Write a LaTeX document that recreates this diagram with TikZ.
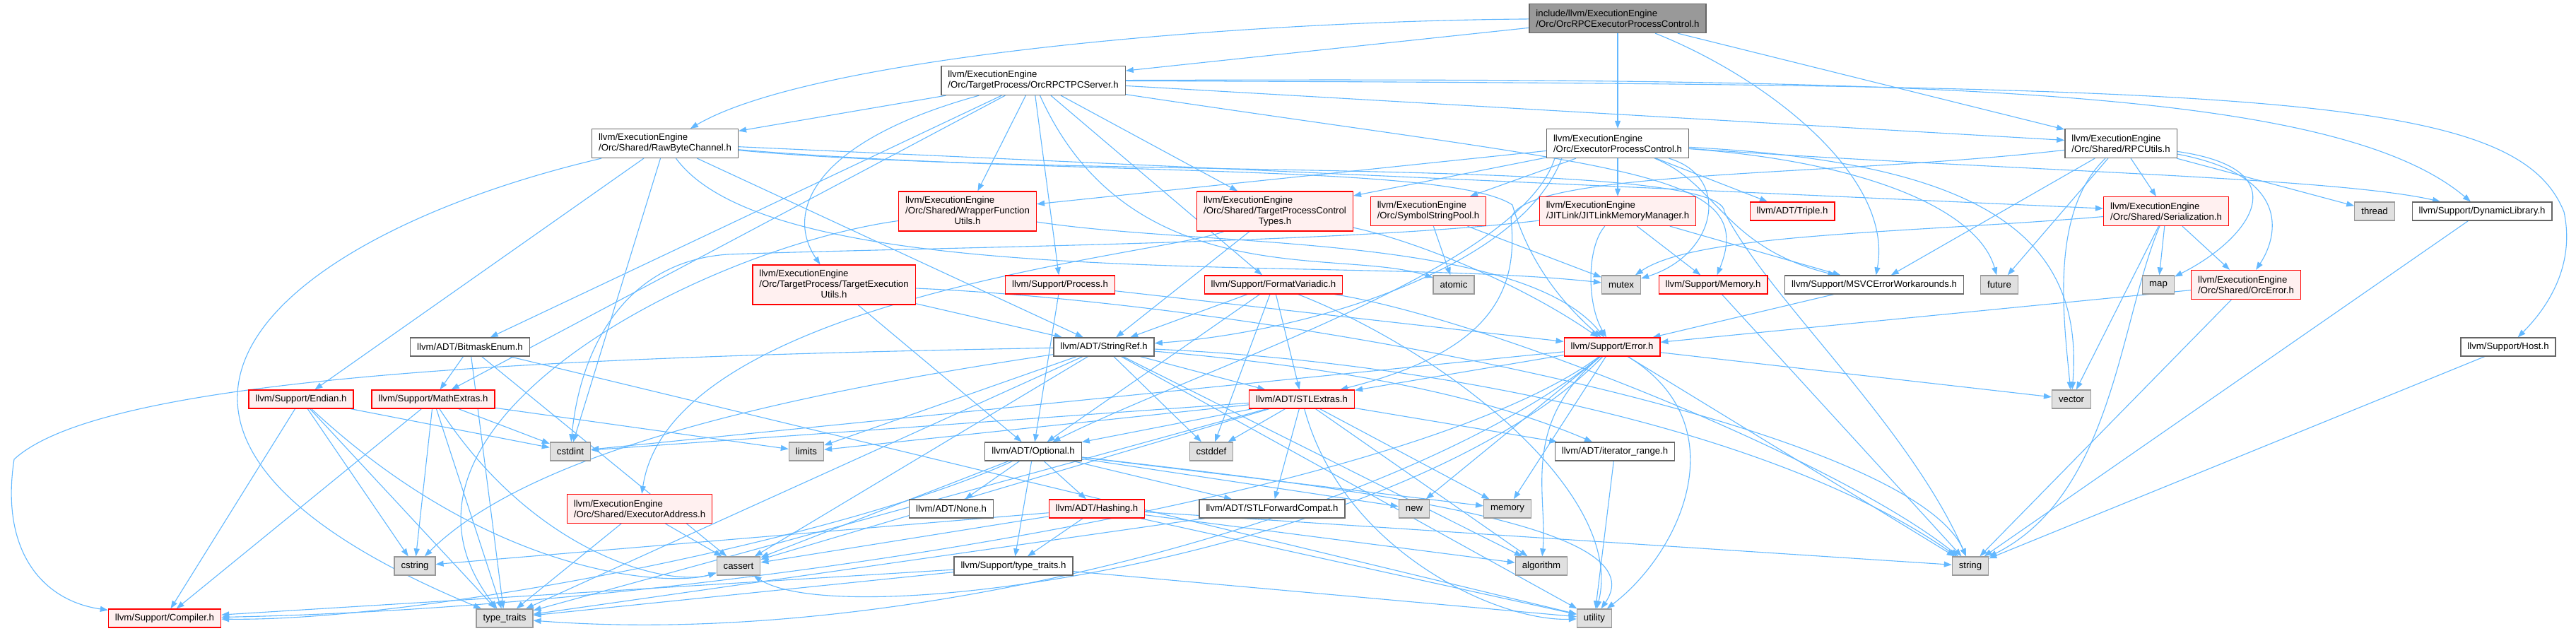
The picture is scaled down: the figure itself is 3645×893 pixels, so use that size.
\documentclass[tikz,border=0pt]{standalone}
\usepackage{fontspec}
\setmainfont{Liberation Sans}
\usetikzlibrary{arrows.meta}

\definecolor{edgeblue}{HTML}{63B8FF}
\definecolor{boxgray}{HTML}{666666}
\definecolor{redline}{HTML}{FF0000}
\definecolor{pinkfill}{HTML}{FFF0F0}
\definecolor{sysgray}{HTML}{999999}
\definecolor{sysfill}{HTML}{E0E0E0}
\definecolor{rootfill}{HTML}{999999}

\newcommand{\graphfont}{\fontsize{13.2}{15}\selectfont}

\tikzstyle{filebox} = [
    rectangle,
    draw=boxgray,
    fill=white,
    line width=1.3pt,
    inner xsep=9.5pt,
    inner ysep=2pt,
    minimum height=26pt,
    align=left,
    font=\graphfont
]
\tikzstyle{redbox} = [filebox, draw=redline, fill=pinkfill]
\tikzstyle{sysbox} = [filebox, draw=sysgray, fill=sysfill]
\tikzstyle{rootbox} = [filebox, fill=rootfill]
\tikzstyle{tall} = [minimum height=41pt]
\tikzstyle{taller} = [minimum height=56pt]
\tikzstyle{arrow} = [
    line width=1.1pt,
    draw=edgeblue,
    ->,
    >={Stealth[length=11pt,width=8pt,inset=0pt]}
]

\pgfdeclarelayer{edges}
\pgfsetlayers{edges,main}

\begin{document}
\begin{tikzpicture}[x=1pt, y=-1pt]

\useasboundingbox (0,0) rectangle (3645,893);

% top rows
\node (root) [rootbox, tall] at (2289,26)
{include/llvm/ExecutionEngine\\/Orc/OrcRPCExecutorProcessControl.h};

\node (tpcserver) [filebox, tall] at (1462,114)
{llvm/ExecutionEngine\\/Orc/TargetProcess/OrcRPCTPCServer.h};

\node (rawbyte) [filebox, tall] at (941,203)
{llvm/ExecutionEngine\\/Orc/Shared/RawByteChannel.h};
\node (epc) [filebox, tall] at (2289,203)
{llvm/ExecutionEngine\\/Orc/ExecutorProcessControl.h};
\node (rpcutils) [filebox, tall] at (3001,203)
{llvm/ExecutionEngine\\/Orc/Shared/RPCUtils.h};

\node (wrapper) [redbox, taller] at (1369,299)
{\begin{tabular}{@{}l@{}}llvm/ExecutionEngine\\/Orc/Shared/WrapperFunction\\\multicolumn{1}{@{}c@{}}{Utils.h}\end{tabular}};
\node (tpctypes) [redbox, taller] at (1804,299)
{\begin{tabular}{@{}l@{}}llvm/ExecutionEngine\\/Orc/Shared/TargetProcessControl\\\multicolumn{1}{@{}c@{}}{Types.h}\end{tabular}};
\node (symstr) [redbox, tall] at (2021,299)
{llvm/ExecutionEngine\\/Orc/SymbolStringPool.h};
\node (jitlinkmm) [redbox, tall] at (2289,299)
{llvm/ExecutionEngine\\/JITLink/JITLinkMemoryManager.h};
\node (triple) [redbox] at (2536,299) {llvm/ADT/Triple.h};
\node (serial) [redbox, tall] at (3065,299)
{llvm/ExecutionEngine\\/Orc/Shared/Serialization.h};
\node (thread) [sysbox] at (3360,299) {thread};
\node (dynlib) [filebox] at (3512,299) {llvm/Support/DynamicLibrary.h};

\node (teutils) [redbox, taller] at (1180,403)
{\begin{tabular}{@{}l@{}}llvm/ExecutionEngine\\/Orc/TargetProcess/TargetExecution\\\multicolumn{1}{@{}c@{}}{Utils.h}\end{tabular}};
\node (process) [redbox] at (1500,403) {llvm/Support/Process.h};
\node (formatv) [redbox] at (1802,403) {llvm/Support/FormatVariadic.h};
\node (atomic) [sysbox] at (2057,403) {atomic};
\node (mutex) [sysbox] at (2294,403) {mutex};
\node (memoryh) [redbox] at (2424,403) {llvm/Support/Memory.h};
\node (msvc) [filebox] at (2652,403) {llvm/Support/MSVCErrorWorkarounds.h};
\node (future) [sysbox] at (2829,403) {future};
\node (map) [sysbox] at (3054,403) {map};
\node (orcerror) [redbox, tall] at (3178,403)
{llvm/ExecutionEngine\\/Orc/Shared/OrcError.h};

% middle rows
\node (bitmask) [filebox] at (665,491) {llvm/ADT/BitmaskEnum.h};
\node (stringref) [filebox] at (1562,491) {llvm/ADT/StringRef.h};
\node (error) [redbox] at (2281,491) {llvm/Support/Error.h};
\node (host) [filebox] at (3549,491) {llvm/Support/Host.h};

\node (endian) [redbox] at (426,565) {llvm/Support/Endian.h};
\node (mathext) [redbox] at (613,565) {llvm/Support/MathExtras.h};
\node (stlextras) [redbox] at (1842,565) {llvm/ADT/STLExtras.h};
\node (vector) [sysbox] at (2931,565) {vector};

\node (cstdint) [sysbox] at (807,639) {cstdint};
\node (limits) [sysbox] at (1141,639) {limits};
\node (optional) [filebox] at (1462,639) {llvm/ADT/Optional.h};
\node (cstddef) [sysbox] at (1714,639) {cstddef};
\node (iterrange) [filebox] at (2285,639) {llvm/ADT/iterator\_range.h};

% bottom rows
\node (execaddr) [redbox, tall] at (905,720)
{llvm/ExecutionEngine\\/Orc/Shared/ExecutorAddress.h};
\node (none) [filebox] at (1346,720) {llvm/ADT/None.h};
\node (hashing) [redbox] at (1552,720) {llvm/ADT/Hashing.h};
\node (stlfwd) [filebox] at (1800,720) {llvm/ADT/STLForwardCompat.h};
\node (newh) [sysbox] at (2001,720) {new};
\node (memory) [sysbox] at (2133,720) {memory};

\node (cstring) [sysbox] at (587,801) {cstring};
\node (cassert) [sysbox] at (1045,801) {cassert};
\node (typetraitsh) [filebox] at (1434,801) {llvm/Support/type\_traits.h};
\node (algorithm) [sysbox] at (2181,801) {algorithm};
\node (string) [sysbox] at (2788,801) {string};

\node (compiler) [redbox] at (233,875) {llvm/Support/Compiler.h};
\node (typetraits) [sysbox] at (714,875) {type\_traits};
\node (utility) [sysbox] at (2256,875) {utility};

\begin{pgfonlayer}{edges}
% root
\draw [arrow] (root) -- (tpcserver);
\draw [arrow] (root) .. controls (1750,30) and (1150,80) .. (rawbyte);
\draw [arrow] (root) -- (epc);
\draw [arrow] (root) -- (rpcutils);
\draw [arrow] (root) .. controls (2500,110) and (2680,250) .. (msvc);
% OrcRPCTPCServer.h
\draw [arrow] (tpcserver) -- (rawbyte);
\draw [arrow] (tpcserver) -- (rpcutils);
\draw [arrow] (tpcserver) -- (wrapper);
\draw [arrow] (tpcserver) -- (tpctypes);
\draw [arrow] (tpcserver) .. controls (1150,200) and (1110,300) .. (teutils);
\draw [arrow] (tpcserver) -- (bitmask);
\draw [arrow] (tpcserver) -- (mathext);
\draw [arrow] (tpcserver) -- (process);
\draw [arrow] (tpcserver) -- (formatv);
\draw [arrow] (tpcserver) .. controls (1600,420) and (1900,350) .. (atomic);
\draw [arrow] (tpcserver) .. controls (2300,240) and (2490,240) .. (memoryh);
\draw [arrow] (tpcserver) .. controls (2700,110) and (3300,120) .. (dynlib);
\draw [arrow] (tpcserver) .. controls (3200,120) and (3560,130) .. (3628,300)
    .. controls (3645,380) and (3600,440) .. (host);
% RawByteChannel.h
\draw [arrow] (rawbyte) -- (serial);
\draw [arrow] (rawbyte) -- (endian);
\draw [arrow] (rawbyte) -- (cstdint);
\draw [arrow] (rawbyte) .. controls (400,330) and (50,600) .. (typetraits);
\draw [arrow] (rawbyte) -- (stringref);
\draw [arrow] (rawbyte) .. controls (1500,250) and (2050,230) .. (2140,290)
    .. controls (2160,360) and (2200,420) .. (error);
\draw [arrow] (rawbyte) .. controls (1100,420) and (1900,360) .. (mutex);
\draw [arrow] (rawbyte) .. controls (1500,255) and (2440,220) .. (2440,300)
    .. controls (2500,420) and (2700,600) .. (string);
% ExecutorProcessControl.h
\draw [arrow] ([xshift=12pt]epc.south west) .. controls (2150,380) and (1700,520) .. (optional);
\draw [arrow] ([xshift=22pt]epc.south west) .. controls (2150,380) and (1850,470) .. (stringref);
\draw [arrow] (epc) -- (triple);
\draw [arrow] (epc) -- (jitlinkmm);
\draw [arrow] (epc) -- (tpctypes);
\draw [arrow] (epc) -- (wrapper);
\draw [arrow] (epc) -- (symstr);
\draw [arrow] (epc) .. controls (2800,240) and (3300,250) .. (dynlib);
\draw [arrow] (epc) .. controls (2430,260) and (2440,350) .. (msvc);
\draw [arrow] (epc) .. controls (2650,230) and (2800,300) .. (future);
\draw [arrow] (epc) .. controls (2450,250) and (2430,360) .. (mutex);
\draw [arrow] (epc) .. controls (2800,230) and (2950,330) .. (vector);
% RPCUtils.h
\draw [arrow] (rpcutils) .. controls (2600,250) and (2150,240) .. (2138,310)
    .. controls (2150,420) and (2100,500) .. (stlextras);
\draw [arrow] (rpcutils) .. controls (3250,250) and (3220,340) .. (orcerror);
\draw [arrow] (rpcutils) -- (serial);
\draw [arrow] (rpcutils) -- (msvc);
\draw [arrow] (rpcutils) -- (future);
\draw [arrow] (rpcutils) .. controls (3260,240) and (3180,340) .. (map);
\draw [arrow] (rpcutils) -- (thread);
\draw [arrow] (rpcutils) .. controls (2900,300) and (2920,450) .. (vector);
% second row
\draw [arrow] (wrapper) .. controls (1700,350) and (2150,330) .. (error);
\draw [arrow] (wrapper) .. controls (1000,350) and (500,600) .. (typetraits);
\draw [arrow] (tpctypes) -- (stringref);
\draw [arrow] (tpctypes) .. controls (1650,360) and (950,420) .. (execaddr);
\draw [arrow] (tpctypes) .. controls (2000,340) and (2150,400) .. (error);
\draw [arrow] (symstr) -- (atomic);
\draw [arrow] (symstr) -- (mutex);
\draw [arrow] (jitlinkmm) .. controls (2245,350) and (2245,430) .. (error);
\draw [arrow] (jitlinkmm) -- (memoryh);
\draw [arrow] (jitlinkmm) -- (msvc);
\draw [arrow] (jitlinkmm) .. controls (1900,345) and (1300,350) .. (1030,360)
    .. controls (880,370) and (820,500) .. (cstdint);
\draw [arrow] (serial) -- (orcerror);
\draw [arrow] (serial) -- (map);
\draw [arrow] (serial) .. controls (2700,330) and (2400,330) .. (mutex);
\draw [arrow] (serial) -- (vector);
\draw [arrow] (serial) .. controls (3000,450) and (2990,700) .. (string);
\draw [arrow] (dynlib) -- (string);
% third row
\draw [arrow] (teutils) -- (stringref);
\draw [arrow] (teutils) -- (optional);
\draw [arrow] (teutils) .. controls (1800,430) and (2700,600) .. (string);
\draw [arrow] (process) -- (optional);
\draw [arrow] (process) -- (error);
\draw [arrow] (formatv) -- (stringref);
\draw [arrow] (formatv) -- (stlextras);
\draw [arrow] (formatv) -- (optional);
\draw [arrow] (formatv) -- (cstddef);
\draw [arrow] (formatv) .. controls (2100,450) and (2600,650) .. (string);
\draw [arrow] (formatv) .. controls (2050,500) and (2300,700) .. (utility);
\draw [arrow] (memoryh) -- (string);
\draw [arrow] (msvc) -- (error);
\draw [arrow] (orcerror) -- (error);
\draw [arrow] (orcerror) -- (string);
% BitmaskEnum.h, StringRef.h, Error.h, Host.h
\draw [arrow] (bitmask) -- (mathext);
\draw [arrow] (bitmask) -- (cassert);
\draw [arrow] (bitmask) -- (typetraits);
\draw [arrow] (bitmask) -- (utility);
\draw [arrow] (stringref) -- (stlextras);
\draw [arrow] (stringref) .. controls (1900,520) and (2100,560) .. (iterrange);
\draw [arrow] (stringref) .. controls (800,505) and (150,530) .. (20,650)
    .. controls (0,780) and (60,850) .. (compiler);
\draw [arrow] (stringref) -- (cstddef);
\draw [arrow] (stringref) .. controls (1100,560) and (750,640) .. (cstring);
\draw [arrow] (stringref) -- (limits);
\draw [arrow] (stringref) .. controls (2000,510) and (2500,600) .. (string);
\draw [arrow] (stringref) -- (typetraits);
\draw [arrow] (stringref) -- (utility);
\draw [arrow] (stringref) -- (cassert);
\draw [arrow] (stringref) -- (algorithm);
\draw [arrow] (error) -- (stlextras);
\draw [arrow] (error) .. controls (2000,700) and (1000,860) .. (compiler);
\draw [arrow] (error) .. controls (2150,600) and (2190,700) .. (algorithm);
\draw [arrow] (error) .. controls (2000,780) and (1200,900) .. (cassert);
\draw [arrow] (error) -- (cstdint);
\draw [arrow] (error) -- (memory);
\draw [arrow] (error) -- (newh);
\draw [arrow] (error) -- (string);
\draw [arrow] (error) .. controls (2000,720) and (1300,920) .. (typetraits);
\draw [arrow] (error) .. controls (2460,600) and (2380,780) .. (utility);
\draw [arrow] (error) -- (vector);
\draw [arrow] (host) -- (string);
% Endian.h, MathExtras.h, STLExtras.h
\draw [arrow] (endian) -- (compiler);
\draw [arrow] (endian) -- (cstdint);
\draw [arrow] (endian) -- (cstring);
\draw [arrow] (endian) -- (typetraits);
\draw [arrow] (endian) .. controls (700,820) and (950,830) .. (cassert);
\draw [arrow] (mathext) -- (compiler);
\draw [arrow] (mathext) .. controls (760,790) and (950,830) .. (cassert);
\draw [arrow] (mathext) -- (cstdint);
\draw [arrow] (mathext) -- (cstring);
\draw [arrow] (mathext) -- (limits);
\draw [arrow] (mathext) -- (typetraits);
\draw [arrow] (stlextras) -- (optional);
\draw [arrow] (stlextras) -- (stlfwd);
\draw [arrow] (stlextras) -- (iterrange);
\draw [arrow] (stlextras) -- (algorithm);
\draw [arrow] (stlextras) -- (cassert);
\draw [arrow] (stlextras) -- (cstddef);
\draw [arrow] (stlextras) -- (cstdint);
\draw [arrow] (stlextras) -- (limits);
\draw [arrow] (stlextras) -- (memory);
\draw [arrow] (stlextras) -- (typetraits);
\draw [arrow] (stlextras) .. controls (1900,780) and (2120,880) .. (utility);
% lower rows
\draw [arrow] (iterrange) -- (utility);
\draw [arrow] (optional) -- (none);
\draw [arrow] (optional) -- (hashing);
\draw [arrow] (optional) -- (stlfwd);
\draw [arrow] (optional) -- (typetraitsh);
\draw [arrow] (optional) .. controls (1200,760) and (600,880) .. (compiler);
\draw [arrow] (optional) -- (cassert);
\draw [arrow] (optional) -- (memory);
\draw [arrow] (optional) -- (newh);
\draw [arrow] (optional) .. controls (1900,690) and (2350,740) .. (utility);
\draw [arrow] (execaddr) -- (cassert);
\draw [arrow] (execaddr) -- (typetraits);
\draw [arrow] (hashing) -- (typetraitsh);
\draw [arrow] (hashing) -- (cassert);
\draw [arrow] (hashing) -- (algorithm);
\draw [arrow] (hashing) -- (string);
\draw [arrow] (hashing) -- (utility);
\draw [arrow] (hashing) -- (cstring);
\draw [arrow] (stlfwd) -- (typetraits);
\draw [arrow] (typetraitsh) -- (compiler);
\draw [arrow] (typetraitsh) -- (typetraits);
\draw [arrow] (typetraitsh) -- (utility);
\end{pgfonlayer}

\end{tikzpicture}
\end{document}
